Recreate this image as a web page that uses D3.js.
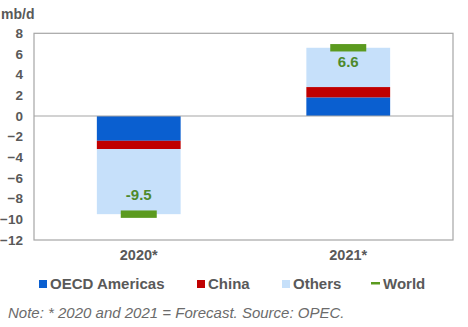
<!DOCTYPE html>
<html><head><meta charset="utf-8">
<script src="https://cdn.jsdelivr.net/npm/d3@7"></script>
<style>body{margin:0;background:#fff;} svg{display:block;font-family:"Liberation Sans",Arial,sans-serif;}</style>
</head><body>
<svg id="c" width="468" height="327"></svg>
<script>
const categories = ["2020*", "2021*"];
const oecdAmericas = [-2.4, 1.8];
const china = [-0.8, 1.0];
const others = [-6.3, 3.8];
const world = [-9.5, 6.6];
const worldLabels = ["-9.5", "6.6"];
const yTicks = [8, 6, 4, 2, 0, -2, -4, -6, -8, -10, -12];
const seriesNames = ["OECD Americas", "China", "Others", "World"];
const colors = {"OECD Americas": "#0a5fd0", "China": "#c00000", "Others": "#c6e0fa", "World": "#5b9a1f"};

const svg = d3.select("#c");
const L = 34, R = 453, T = 33.3, B = 240;
const x = d3.scaleBand().domain(categories).range([L, R]).paddingInner(0.6).paddingOuter(0.3);
const y = d3.scaleLinear().domain([-12, 8]).range([B, T]);

// stacked bars
const series = [["OECD Americas", oecdAmericas], ["China", china], ["Others", others]];
categories.forEach((c, i) => {
  let base = 0;
  series.forEach(([name, vals]) => {
    const v = vals[i];
    const y0 = y(base), y1 = y(base + v);
    svg.append("rect").attr("x", x(c)).attr("width", x.bandwidth())
      .attr("y", Math.min(y0, y1)).attr("height", Math.abs(y1 - y0))
      .attr("fill", colors[name]);
    base += v;
  });
  const mw = 36;
  svg.append("rect").attr("x", x(c) + x.bandwidth()/2 - mw/2).attr("width", mw)
    .attr("y", y(world[i]) - 3.7).attr("height", 7.4).attr("fill", colors["World"]);
  const ly = world[i] < 0 ? y(world[i]) - 14 : y(world[i]) + 19;
  svg.append("text").attr("x", x(c) + x.bandwidth()/2).attr("y", ly)
    .attr("text-anchor", "middle").attr("font-size", 15).attr("font-weight", "bold")
    .attr("fill", "#4e8a2c").text(worldLabels[i]);
});

// frame
svg.append("rect").attr("x", L).attr("y", T).attr("width", R - L).attr("height", B - T)
  .attr("fill", "none").attr("stroke", "#a6a6a6").attr("stroke-width", 1.2);
svg.append("line").attr("x1", L).attr("x2", R).attr("y1", y(0)).attr("y2", y(0))
  .attr("stroke", "#a6a6a6").attr("stroke-width", 1.2);

// y axis
const yAxis = d3.axisLeft(y).tickValues(yTicks).tickSize(0).tickPadding(11).tickFormat(d3.format("d"));
const ya = svg.append("g").attr("transform", `translate(${L},0)`).call(yAxis);
ya.select(".domain").remove();
ya.selectAll("text").attr("font-size", 13.5).attr("font-weight", "bold").attr("fill", "#595959")
  .attr("font-family", "Liberation Sans, Arial, sans-serif");

// x axis
const xAxis = d3.axisBottom(x).tickSize(0).tickPadding(10);
const xa = svg.append("g").attr("transform", `translate(0,${B})`).call(xAxis);
xa.select(".domain").remove();
xa.selectAll("text").attr("font-size", 14.5).attr("font-weight", "bold").attr("fill", "#595959")
  .attr("font-family", "Liberation Sans, Arial, sans-serif");

// unit
svg.append("text").attr("x", 1).attr("y", 19).attr("font-size", 14).attr("font-weight", "bold")
  .attr("fill", "#595959").text("mb/d");

// legend
const legX = [39, 197, 282, 371];
const lg = svg.append("g");
seriesNames.forEach((n, i) => {
  if (n === "World") {
    lg.append("rect").attr("x", legX[i]).attr("y", 282).attr("width", 9).attr("height", 2.5).attr("fill", colors[n]);
    lg.append("text").attr("x", legX[i] + 12).attr("y", 288.5).attr("font-size", 15).attr("font-weight", "bold")
      .attr("fill", "#595959").text(n);
  } else {
    lg.append("rect").attr("x", legX[i]).attr("y", 280).attr("width", 8).attr("height", 8).attr("fill", colors[n]);
    lg.append("text").attr("x", legX[i] + 11).attr("y", 288.5).attr("font-size", 15).attr("font-weight", "bold")
      .attr("fill", "#595959").text(n);
  }
});

// note
svg.append("text").attr("x", 8).attr("y", 318).attr("font-size", 15).attr("font-style", "italic")
  .attr("fill", "#6b6b6b").text("Note: * 2020 and 2021 = Forecast. Source: OPEC.");
</script>
</body></html>
